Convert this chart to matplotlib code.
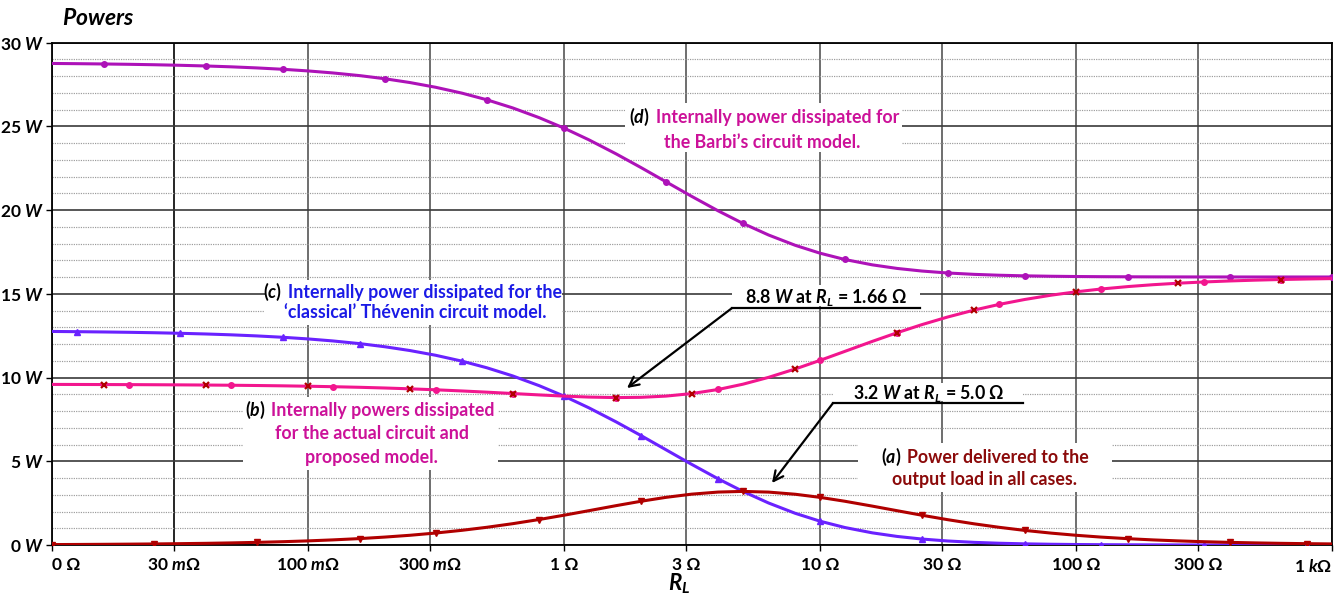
import matplotlib
matplotlib.use('Agg')
import matplotlib.pyplot as plt
from matplotlib.offsetbox import TextArea, HPacker, AnnotationBbox
from matplotlib.patches import Rectangle
from matplotlib.ticker import FixedLocator, MultipleLocator

plt.rcParams['font.family'] = ['Lato', 'DejaVu Sans']
plt.rcParams['font.weight'] = 'bold'
plt.rcParams['mathtext.fontset'] = 'custom'
plt.rcParams['mathtext.rm'] = 'Lato:bold'
plt.rcParams['mathtext.it'] = 'Lato:italic:bold'
plt.rcParams['mathtext.bf'] = 'Lato:bold'

# ---------------- data ----------------
rl = [0.01, 0.0125, 0.016, 0.02, 0.025, 0.0315, 0.04, 0.05, 0.063, 0.08,
      0.1, 0.125, 0.16, 0.2, 0.25, 0.315, 0.4, 0.5, 0.63, 0.8,
      1, 1.25, 1.6, 2, 2.5, 3.15, 4, 5, 6.3, 8,
      10, 12.5, 16, 20, 25, 31.5, 40, 50, 63, 80,
      100, 125, 160, 200, 250, 315, 400, 500, 630, 800, 1000]

p_load = [0.025, 0.032, 0.041, 0.051, 0.063, 0.080, 0.100, 0.125, 0.157, 0.198,
          0.246, 0.305, 0.384, 0.474, 0.580, 0.714, 0.878, 1.058, 1.272, 1.522,
          1.778, 2.048, 2.351, 2.612, 2.844, 3.035, 3.160, 3.200, 3.158, 3.030,
          2.844, 2.612, 2.322, 2.048, 1.778, 1.513, 1.264, 1.058, 0.872, 0.709,
          0.581, 0.473, 0.376, 0.304, 0.246, 0.197, 0.156, 0.126, 0.100, 0.079, 0.064]

p_actual = [9.587, 9.584, 9.579, 9.575, 9.568, 9.560, 9.550, 9.538, 9.522, 9.502,
            9.479, 9.451, 9.414, 9.373, 9.324, 9.266, 9.196, 9.124, 9.044, 8.960,
            8.889, 8.832, 8.801, 8.817, 8.889, 9.039, 9.284, 9.600, 10.010, 10.508,
            11.022, 11.559, 12.155, 12.672, 13.156, 13.610, 14.025, 14.361, 14.657, 14.915,
            15.115, 15.281, 15.430, 15.540, 15.629, 15.703, 15.765, 15.811, 15.850, 15.881, 15.905]

p_thevenin = [12.749, 12.736, 12.718, 12.698, 12.673, 12.640, 12.598, 12.548, 12.483, 12.400,
              12.303, 12.183, 12.019, 11.834, 11.610, 11.328, 10.974, 10.579, 10.096, 9.512,
              8.889, 8.192, 7.346, 6.531, 5.689, 4.818, 3.951, 3.200, 2.506, 1.893,
              1.422, 1.045, 0.726, 0.512, 0.356, 0.240, 0.158, 0.106, 0.069, 0.044,
              0.029, 0.019, 0.012, 0.008, 0.005, 0.003, 0.002, 0.001, 0.001, 0.000, 0.000]

p_barbi = [28.749, 28.736, 28.718, 28.698, 28.673, 28.640, 28.598, 28.548, 28.483, 28.400,
           28.303, 28.183, 28.019, 27.834, 27.610, 27.328, 26.974, 26.579, 26.096, 25.512,
           24.889, 24.192, 23.346, 22.531, 21.689, 20.818, 19.951, 19.200, 18.506, 17.893,
           17.422, 17.045, 16.726, 16.512, 16.356, 16.240, 16.158, 16.106, 16.069, 16.044,
           16.029, 16.019, 16.012, 16.008, 16.005, 16.003, 16.002, 16.001, 16.001, 16.000, 16.000]

x_ticks = [0.01, 0.03, 0.1, 0.3, 1, 3, 10, 30, 100, 300, 1000]
x_tick_labels = ['0 Ω', '30 $m$Ω', '100 $m$Ω', '300 $m$Ω', '1 Ω', '3 Ω',
                 '10 Ω', '30 Ω', '100 Ω', '300 Ω', '1 $k$Ω']
y_ticks = [0, 5, 10, 15, 20, 25, 30]
y_tick_labels = ['0 $W$', '5 $W$', '10 $W$', '15 $W$', '20 $W$', '25 $W$', '30 $W$']

# ---------------- colours ----------------
C_BARBI = '#AD12B8'
C_THEV = '#6A22FF'
C_ACT = '#F2168E'
C_LOAD = '#B00000'
T_MAG = '#CC1199'
T_BLUE = '#1A1AE6'
T_RED = '#8B0A0A'

fig = plt.figure(figsize=(13.42, 5.96), dpi=100)
ax = fig.add_axes([52 / 1342, 51 / 596, 1280 / 1342, 502.5 / 596])
ax.set_xscale('log')
ax.set_xlim(x_ticks[0], x_ticks[-1])
ax.set_ylim(y_ticks[0], y_ticks[-1])

# grid
ax.set_axisbelow(True)
ax.xaxis.set_major_locator(FixedLocator(x_ticks))
ax.xaxis.set_minor_locator(FixedLocator([]))
ax.set_xticklabels(x_tick_labels)
ax.yaxis.set_major_locator(FixedLocator(y_ticks))
ax.yaxis.set_minor_locator(MultipleLocator(1))
ax.set_yticklabels(y_tick_labels)
ax.grid(which='major', axis='x', color='#555555', lw=1.2)
ax.grid(which='major', axis='y', color='#3a3a3a', lw=1.2)
ax.grid(which='minor', axis='y', color='#9a9a9a', lw=0.85, linestyle=(0, (1, 1)))
ax.get_xgridlines()[1].set_color('black')

for s in ax.spines.values():
    s.set_color('black')
    s.set_linewidth(1.3)

ax.tick_params(axis='both', which='major', direction='out', length=4, width=1,
               color='black', labelsize=12.5)
ax.tick_params(axis='x', pad=5)
ax.tick_params(axis='y', pad=2)
ax.tick_params(axis='y', which='minor', length=0)
xl = ax.get_xticklabels()
xl[0].set_horizontalalignment('left')
xl[-1].set_horizontalalignment('right')

# white boxes behind annotations (axes-fraction)
def white_box(x0, x1, y0, y1):
    ax.add_patch(Rectangle((x0, y0), x1 - x0, y1 - y0, transform=ax.transAxes,
                           facecolor='white', edgecolor='none', zorder=1))

white_box(0.4477, 0.6641, 0.782, 0.8796)   # (d)
white_box(0.1664, 0.3984, 0.4378, 0.5274)  # (c)
white_box(0.1492, 0.3484, 0.1493, 0.2945)  # (b)
white_box(0.6297, 0.8281, 0.1055, 0.2030)  # (a)
white_box(0.5313, 0.6781, 0.4756, 0.5174)  # 8.8 W
white_box(0.6102, 0.7586, 0.2866, 0.3224)  # 3.2 W

# curves
step = 0.071
ax.plot(rl, p_barbi, color=C_BARBI, lw=2.2, marker='o', ms=4,
        markevery=(0.032, step), zorder=3)
ax.plot(rl, p_thevenin, color=C_THEV, lw=2.2, marker='^', ms=5,
        markevery=(0.018, step), zorder=3)
ax.plot(rl, p_actual, color=C_ACT, lw=2.2, marker='o', ms=4,
        markevery=(0.060, step), zorder=3)
ax.plot(rl, p_actual, color=C_LOAD, lw=0, marker='x', ms=4.5, mew=1.6,
        markevery=(0.046, step), zorder=3.5)
ax.plot(rl, p_load, color=C_LOAD, lw=2.2, marker='v', ms=5,
        markevery=(0.002, step), zorder=3)

# text helpers
def text_line(parts, x, y, size=12.8):
    children = [TextArea(t, textprops=dict(color=c, fontsize=size, fontweight='bold'))
                for t, c in parts]
    box = HPacker(children=children, align='baseline', pad=0, sep=4)
    ab = AnnotationBbox(box, (x, y), xycoords='axes fraction', frameon=False,
                        box_alignment=(0.5, 0.5), pad=0, zorder=5)
    ax.add_artist(ab)

text_line([('($d$)', 'black'), ('Internally power dissipated for', T_MAG)], 0.5563, 0.8517)
text_line([('the Barbi’s circuit model.', T_MAG)], 0.555, 0.800)

text_line([('($c$)', 'black'), ('Internally power dissipated for the', T_BLUE)], 0.2816, 0.5035)
text_line([('‘classical’ Thévenin circuit model.', T_BLUE)], 0.2836, 0.4617)

text_line([('($b$)', 'black'), ('Internally powers dissipated', T_MAG)], 0.2484, 0.2687)
text_line([('for the actual circuit and', T_MAG)], 0.250, 0.2209)
text_line([('proposed model.', T_MAG)], 0.2496, 0.1751)

text_line([('($a$)', 'black'), ('Power delivered to the', T_RED)], 0.7289, 0.1751)
text_line([('output load in all cases.', T_RED)], 0.7289, 0.1294)

text_line([('8.8 $W$ at $R_L$ = 1.66 Ω', 'black')], 0.6047, 0.4935)
text_line([('3.2 $W$ at $R_L$ = 5.0 Ω', 'black')], 0.6848, 0.3005)

# leader lines + arrows
ax.plot([0.5313, 0.6781], [0.4716, 0.4716], transform=ax.transAxes,
        color='black', lw=1.6, zorder=4)
ax.annotate('', xy=(0.4492, 0.3124), xytext=(0.5313, 0.4716),
            xycoords='axes fraction', textcoords='axes fraction',
            arrowprops=dict(arrowstyle='->,head_length=0.7,head_width=0.35',
                            color='black', lw=1.6, shrinkA=0, shrinkB=0), zorder=4)
ax.plot([0.6102, 0.7586], [0.2826, 0.2826], transform=ax.transAxes,
        color='black', lw=1.6, zorder=4)
ax.annotate('', xy=(0.5625, 0.1234), xytext=(0.6102, 0.2826),
            xycoords='axes fraction', textcoords='axes fraction',
            arrowprops=dict(arrowstyle='->,head_length=0.7,head_width=0.35',
                            color='black', lw=1.6, shrinkA=0, shrinkB=0), zorder=4)

# axis title and label
fig.text(62 / 1342, (596 - 25) / 596, '$Powers$', fontsize=16.5, va='baseline', ha='left')
ax.text(0.49, -0.078, '$R_L$', transform=ax.transAxes, fontsize=16,
        ha='center', va='center')

fig.savefig('out.png', dpi=100)
